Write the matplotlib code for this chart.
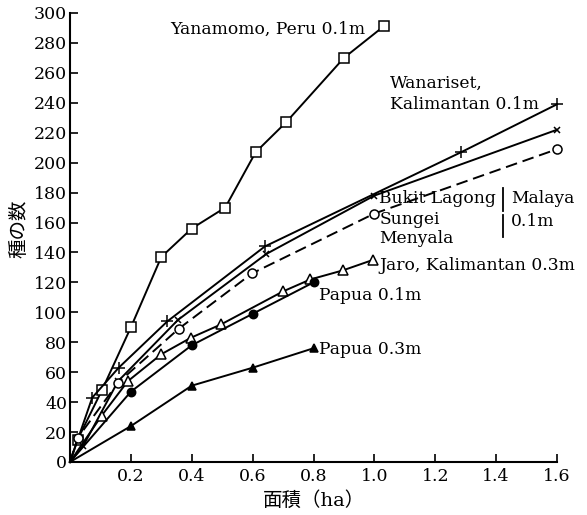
import matplotlib
matplotlib.use("Agg")
import matplotlib.pyplot as plt

# species-area curves
yan_x = [0, 0.025, 0.105, 0.2, 0.3, 0.4, 0.51, 0.61, 0.71, 0.9, 1.03]
yan_y = [0, 15, 48, 90, 137, 156, 170, 207, 227, 270, 291]

wan_x = [0, 0.073, 0.16, 0.32, 0.64, 1.285, 1.6]
wan_y = [0, 43, 63, 94, 144, 207, 239]

buk_x = [0, 0.044, 0.158, 0.355, 0.645, 1.0, 1.6]
buk_y = [0, 11, 54, 95, 139, 178, 222]

sun_x = [0, 0.025, 0.158, 0.357, 0.598, 1.0, 1.6]
sun_y = [0, 16, 53, 89, 126, 166, 209]

jar_x = [0, 0.104, 0.19, 0.3, 0.397, 0.497, 0.7, 0.79, 0.896, 0.995]
jar_y = [0, 31, 54, 72, 83, 92, 114, 122, 128, 135]

pap1_x = [0, 0.2, 0.4, 0.6, 0.8]
pap1_y = [0, 47, 78, 99, 120]

pap3_x = [0, 0.2, 0.4, 0.6, 0.8]
pap3_y = [0, 24, 51, 63, 76]

xticks = [0.2, 0.4, 0.6, 0.8, 1.0, 1.2, 1.4, 1.6]
yticks = list(range(0, 301, 20))

serif = ["DejaVu Serif"]
jp = ["DejaVu Serif", "Noto Sans CJK JP"]

fig = plt.figure(figsize=(5.87, 5.15), dpi=100)
ax = fig.add_axes([70 / 587, 53 / 515, 487 / 587, 449 / 515])

# no marker at the origin, every curve just starts there
k = dict(color="black", lw=1.4, mfc="white", mec="black", mew=1.1,
         clip_on=False, markevery=slice(1, None))
ax.plot(yan_x, yan_y, marker="s", ms=6.5, **k)
ax.plot(wan_x, wan_y, marker="+", ms=8, **k)
ax.plot(buk_x, buk_y, marker="x", ms=5, **k)
ax.plot(sun_x, sun_y, marker="o", ms=6.5, ls=(0, (6, 3)), **k)
ax.plot(jar_x, jar_y, marker="^", ms=7, **k)
ax.plot(pap1_x, pap1_y, marker="o", ms=6, **{**k, "mfc": "black"})
ax.plot(pap3_x, pap3_y, marker="^", ms=6, **{**k, "mfc": "black"})

ax.set_xlim(0, 1.6)
ax.set_ylim(0, 300)
ax.set_xticks(xticks)
ax.set_xticklabels([f"{v:.1f}" for v in xticks], family=serif, fontsize=12.5)
ax.set_yticks(yticks)
ax.set_yticklabels([str(v) for v in yticks], family=serif, fontsize=12.5)
ax.tick_params(direction="in", length=6, width=1.2, pad=4)
ax.tick_params(axis="y", pad=2)
for s in ["top", "right"]:
    ax.spines[s].set_visible(False)
for s in ["left", "bottom"]:
    ax.spines[s].set_linewidth(1.5)

ax.set_xlabel("面積（ha）", family=jp, fontsize=14, labelpad=5)
ax.set_ylabel("種の数", family=jp, fontsize=14)
ax.yaxis.set_label_coords(-0.085, 0.52)

t = dict(family=serif, fontsize=12.3, va="center", ha="left")
ax.text(0.33, 289, "Yanamomo, Peru 0.1m", **t)
ax.text(1.05, 253, "Wanariset,", **t)
ax.text(1.05, 239, "Kalimantan 0.1m", **t)
ax.text(1.016, 176, "Bukit Lagong", **t)
ax.text(1.016, 162, "Sungei", **t)
ax.text(1.016, 149, "Menyala", **t)
ax.text(1.45, 176, "Malaya", **t)
ax.text(1.45, 161, "0.1m", **t)
ax.text(1.016, 131, "Jaro, Kalimantan 0.3m", **t)
ax.text(0.817, 111.5, "Papua 0.1m", **t)
ax.text(0.817, 75.5, "Papua 0.3m", **t)
# brace between site names and "Malaya 0.1m"
ax.plot([1.421, 1.421], [183, 168], color="black", lw=1.3, clip_on=False)
ax.plot([1.421, 1.421], [165, 150], color="black", lw=1.3, clip_on=False)

fig.savefig("out.png", dpi=100)
